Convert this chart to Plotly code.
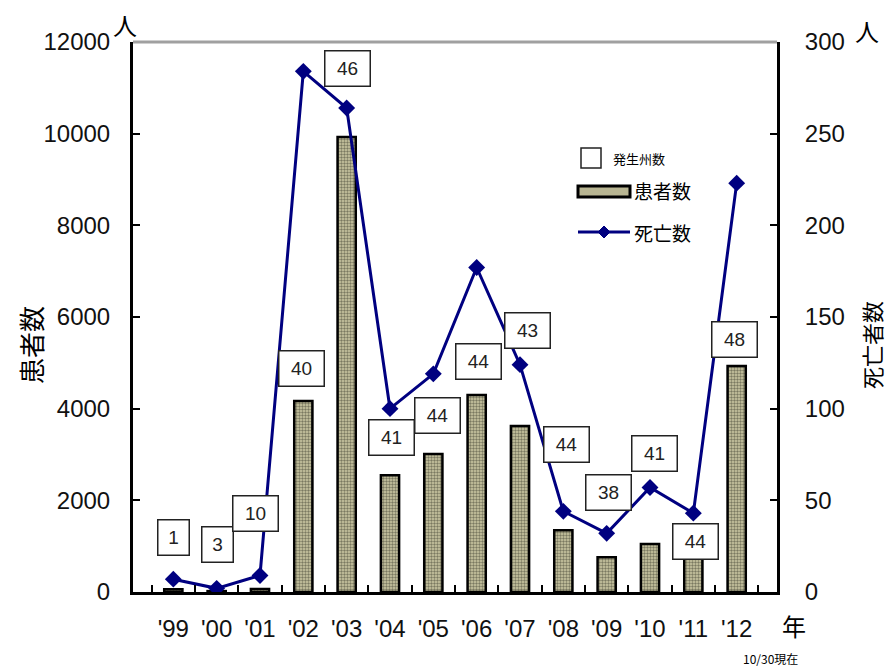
import plotly.graph_objects as go

# West Nile fever in the US: patients, deaths and number of affected states
years = ["'99", "'00", "'01", "'02", "'03", "'04", "'05", "'06", "'07",
         "'08", "'09", "'10", "'11", "'12"]
patients = [60, 20, 65, 4170, 9930, 2550, 3010, 4300, 3620, 1350, 760, 1050, 760, 4930]
deaths = [7, 2, 9, 284, 264, 100, 119, 177, 124, 44, 32, 57, 43, 223]
states = [1, 3, 10, 40, 46, 41, 44, 44, 43, 44, 38, 41, 44, 48]

# where each state-count box sits (left-axis units) and its horizontal nudge in px
box_y = [1180, 1030, 1720, 4870, 11420, 3380, 3860, 5020, 5700, 3210, 2180, 3030, 1110, 5500]
box_dx = [0, 1, -4, -2, 1, 1, 4, 2, 7, 3, 2, 4, 2, -2]

W, H = 888, 666
L, R, T, B = 133, 777, 42, 592
FONT = "Arial, Liberation Sans, Noto Sans CJK JP, sans-serif"
CJK = "Noto Sans CJK JP, sans-serif"


def px(x):
    return (x - L) / (R - L)


def py(y):
    return (B - y) / (B - T)


fig = go.Figure()

fig.add_trace(go.Bar(
    x=years, y=patients, name="患者数", width=0.42,
    marker=dict(
        color="#cfcca6",
        line=dict(color="black", width=2.5),
        pattern=dict(shape=".", fgcolor="#26261c", bgcolor="#cfcca6", size=3, solidity=0.5),
    ),
    showlegend=False,
))

fig.add_trace(go.Scatter(
    x=years, y=deaths, name="死亡数", yaxis="y2", mode="lines+markers",
    line=dict(color="#000080", width=3),
    marker=dict(symbol="diamond", size=13, color="#000080"),
    showlegend=False,
))

annotations = []
for yr, n, by, dx in zip(years, states, box_y, box_dx):
    annotations.append(dict(
        x=yr, y=by, xref="x", yref="y", text=str(n), showarrow=False,
        xshift=dx, font=dict(family=FONT, size=19, color="#222"),
        bordercolor="#222", borderwidth=1.5, borderpad=3, bgcolor="white",
        width=38 if n >= 10 else 24, height=28,
    ))

# unit marks, axis titles and footnote
extra = [
    ("人", 125, 24, 24, 0),
    ("人", 867, 31, 24, 0),
    ("年", 794, 625, 24, 0),
    ("10/30現在", 770, 658, 12, 0),
    ("患者数", 30, 345, 26, -90),
    ("死亡者数", 871, 345, 22, -90),
]
for txt, x, y, size, ang in extra:
    annotations.append(dict(
        x=px(x), y=py(y), xref="paper", yref="paper", text=txt, showarrow=False,
        xanchor="center", yanchor="middle", textangle=ang,
        font=dict(family=CJK, size=size, color="black"),
    ))

# legend
annotations += [
    dict(x=px(611), y=py(158), xref="paper", yref="paper", text="発生州数", showarrow=False,
         xanchor="left", yanchor="middle", font=dict(family=CJK, size=13, color="black")),
    dict(x=px(632), y=py(191), xref="paper", yref="paper", text="患者数", showarrow=False,
         xanchor="left", yanchor="middle", font=dict(family=CJK, size=19, color="black")),
    dict(x=px(632), y=py(232), xref="paper", yref="paper", text="死亡数", showarrow=False,
         xanchor="left", yanchor="middle", font=dict(family=CJK, size=19, color="black")),
]

shapes = [
    # grey top border of the plot area
    dict(type="line", xref="paper", yref="paper", x0=0, x1=1, y0=1, y1=1,
         line=dict(color="#a0a0a0", width=3)),
    # legend symbols
    dict(type="rect", xref="paper", yref="paper", x0=px(581), x1=px(601), y0=py(148), y1=py(168),
         line=dict(color="#222", width=1.5), fillcolor="white"),
    dict(type="rect", xref="paper", yref="paper", x0=px(578), x1=px(630), y0=py(186), y1=py(197),
         line=dict(color="black", width=3), fillcolor="#b8b592"),
    dict(type="line", xref="paper", yref="paper", x0=px(578), x1=px(630), y0=py(232), y1=py(232),
         line=dict(color="#000080", width=3)),
    dict(type="path", xref="paper", yref="paper",
         path=f"M {px(604)} {py(226)} L {px(610)} {py(232)} L {px(604)} {py(238)} L {px(598)} {py(232)} Z",
         line=dict(color="#000080", width=1), fillcolor="#000080"),
]

fig.update_layout(
    width=W, height=H,
    margin=dict(l=L, r=W - R, t=T, b=H - B),
    paper_bgcolor="white", plot_bgcolor="white",
    font=dict(family=FONT, size=24, color="#111"),
    bargap=0.5,
    xaxis=dict(
        type="category", showline=True, linecolor="black", linewidth=3,
        ticks="inside", tickson="boundaries", ticklen=7, tickwidth=2, tickcolor="black",
        showgrid=False, zeroline=False, ticklabelstandoff=13,
        tickfont=dict(size=24),
    ),
    yaxis=dict(
        range=[0, 12000], dtick=2000, tickformat="d", showline=True, linecolor="black", linewidth=3,
        ticks="inside", ticklen=7, tickwidth=2, tickcolor="black",
        showgrid=False, zeroline=False, ticklabelstandoff=15,
        tickfont=dict(size=24),
    ),
    yaxis2=dict(
        range=[0, 300], dtick=50, tickformat="d", overlaying="y", side="right",
        showline=True, linecolor="black", linewidth=3,
        ticks="inside", ticklen=7, tickwidth=2, tickcolor="black",
        showgrid=False, zeroline=False, ticklabelstandoff=20,
        tickfont=dict(size=24),
    ),
    annotations=annotations,
    shapes=shapes,
    showlegend=False,
)

fig.write_html("out.html")
